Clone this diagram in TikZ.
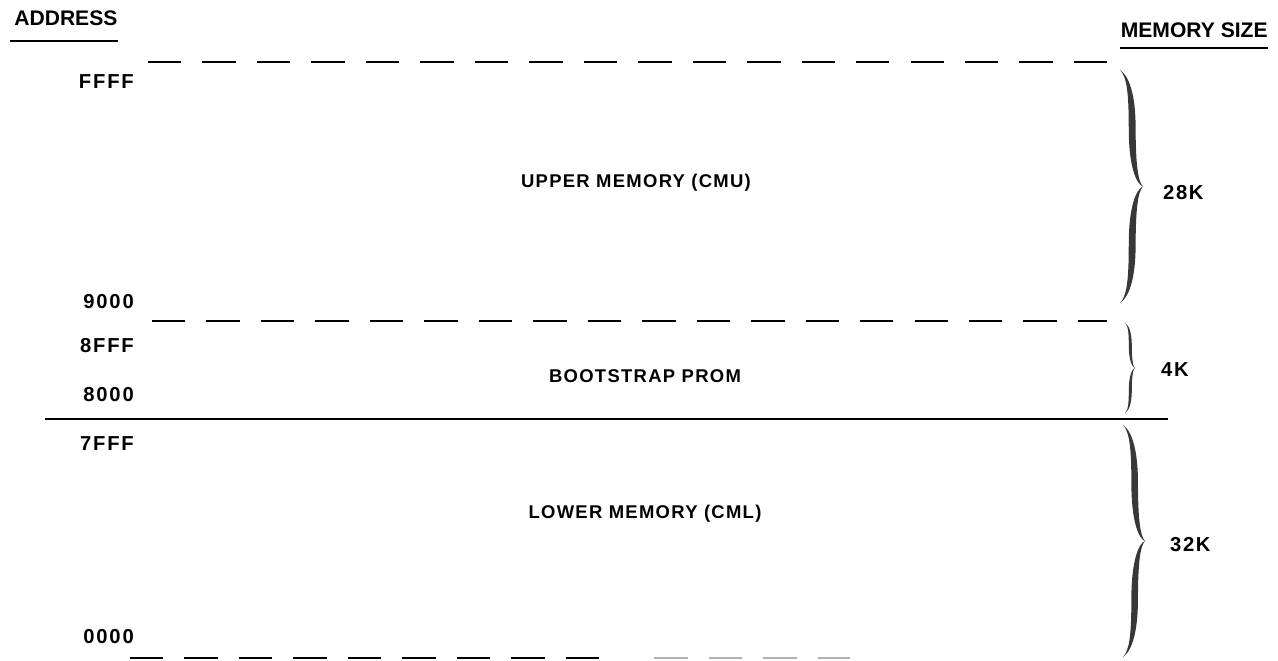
\documentclass[tikz,border=0pt]{standalone}
\usepackage{fontspec}
\setmainfont{Liberation Sans}
\usetikzlibrary{positioning}
\tikzset{
	boundary/.style={line width=1.3pt,dash pattern=on 19pt off 12pt},
	addr/.style={anchor=east,font=\fontsize{11.5}{13}\selectfont\bfseries\addfontfeature{LetterSpace=9}},
	region/.style={font=\fontsize{10.5}{12}\selectfont\bfseries\addfontfeature{LetterSpace=7}},
	size/.style={anchor=west,font=\fontsize{11.5}{13}\selectfont\bfseries\addfontfeature{LetterSpace=8}},
	head/.style={font=\fontsize{12}{14}\selectfont\bfseries},
	rbrace/.pic={
		\fill[black!78] (0,0) .. controls (0.45,0.03) and (0.68,0.12) .. (0.68,0.25)
			.. controls (0.68,0.40) and (0.78,0.48) .. (1,0.5)
			.. controls (0.72,0.49) and (0.38,0.42) .. (0.38,0.25)
			.. controls (0.38,0.1) and (0.3,0.03) .. (0,0) -- cycle;
		\fill[black!78] (1,0.5) .. controls (0.78,0.52) and (0.68,0.60) .. (0.68,0.75)
			.. controls (0.68,0.88) and (0.45,0.97) .. (0,1)
			.. controls (0.3,0.97) and (0.38,0.9) .. (0.38,0.75)
			.. controls (0.38,0.58) and (0.72,0.51) .. (1,0.5) -- cycle;
	}
}

\begin{document}
\begin{tikzpicture}[x=0.02cm,y=-0.02cm]
	\useasboundingbox (0,0) rectangle (1278,660);
	% define coordinates
	\coordinate (T1) at (148,62);
	\coordinate (T2) at (1107,62);
	\coordinate (P1) at (152,321);
	\coordinate (P2) at (1107,321);
	\coordinate (L1) at (45,419);
	\coordinate (L2) at (1168,419);
	\coordinate (B1) at (130,658);
	\coordinate (B2) at (600,658);
	\coordinate (B3) at (850,658);
	% headings
	\node[head,anchor=base west,inner sep=0pt] (address) at (14,25) {ADDRESS};
	\node[head,anchor=base east,inner sep=0pt] (memsize) at (1268,37) {MEMORY SIZE};
	\draw[line width=1.2pt] ([xshift=-0.08cm,yshift=-0.32cm]address.base west) -- ([yshift=-0.32cm]address.base east);
	\draw[line width=1.2pt] ([yshift=-0.22cm]memsize.base west) -- ([yshift=-0.22cm]memsize.base east);
	% boundaries
	\draw[boundary] (T1) -- (T2);
	\draw[boundary] (P1) -- (P2);
	\draw[line width=1.6pt] (L1) -- (L2);
	\draw[boundary] (B1) -- (B2);
	\draw[boundary,black!30] (B2) ++(31pt,0) -- (B3);
	% addresses
	\node[addr] (ffff) at (140,82) {FFFF};
	\node[addr] (a9000) at (140,302) {9000};
	\node[addr] (a8fff) at (140,346) {8FFF};
	\node[addr] (a8000) at (140,395) {8000};
	\node[addr] (a7fff) at (140,444) {7FFF};
	\node[addr] (a0000) at (140,637) {0000};
	% regions
	\node[region] (cmu) at (636,183) {UPPER MEMORY (CMU)};
	\node[region] (prom) at (645,376) {BOOTSTRAP PROM};
	\node[region] (cml) at (645,514) {LOWER MEMORY (CML)};
	% braces
	\pic[xscale=23,yscale=233] at (1120,70) {rbrace};
	\pic[xscale=10,yscale=90] at (1125,323) {rbrace};
	\pic[xscale=22,yscale=232] at (1123,425) {rbrace};
	\node[size] (k28) at (1157,193) {28K};
	\node[size] (k4) at (1155,370) {4K};
	\node[size] (k32) at (1164,545) {32K};
\end{tikzpicture}
\end{document}
